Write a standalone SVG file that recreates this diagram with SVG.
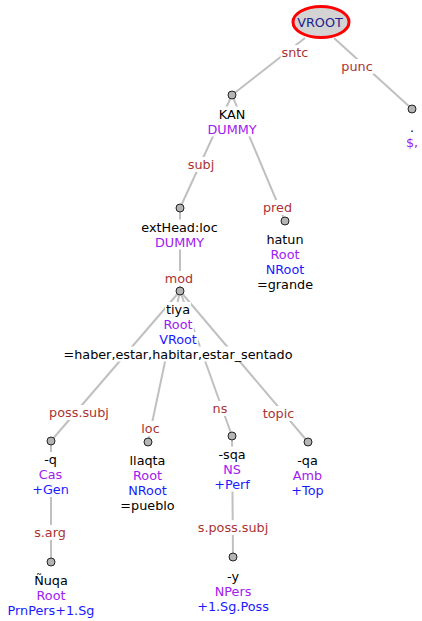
<svg xmlns="http://www.w3.org/2000/svg" width="422" height="621" viewBox="0 0 422 621">
<style>
text{font-family:"DejaVu Sans","Liberation Sans",sans-serif;font-size:12.8px;text-anchor:middle}
.l{fill:#aa3333}
.k{fill:#000000}
.p{fill:#a020f0}
.b{fill:#1a1aff}
.r{fill:#22228f}
.bg{fill:#ffffff;stroke:none}
line{stroke:#c0c0c0;stroke-width:2}
circle{fill:#b4b4b4;stroke:#222;stroke-width:1}
</style>
<rect width="422" height="621" fill="#ffffff"/>
<g id="connectors">
<line x1="305" y1="38" x2="232" y2="95"/>
<line x1="334" y1="38" x2="412" y2="109"/>
<line x1="232" y1="95" x2="180" y2="208"/>
<line x1="232" y1="95" x2="285" y2="221"/>
<line x1="180" y1="208" x2="180" y2="291"/>
<line x1="180" y1="291" x2="51" y2="441"/>
<line x1="180" y1="291" x2="148" y2="442"/>
<line x1="180" y1="291" x2="232" y2="436"/>
<line x1="180" y1="291" x2="308" y2="442"/>
<line x1="51" y1="441" x2="51" y2="562"/>
<line x1="232" y1="436" x2="233" y2="557"/>
<rect class="bg" x="280.6" y="45" width="28.8" height="15"/>
<rect class="bg" x="340.3" y="59" width="33.4" height="15"/>
<rect class="bg" x="186.75" y="157" width="28.5" height="15"/>
<rect class="bg" x="261.8" y="200" width="31.4" height="15"/>
<rect class="bg" x="163.8" y="271" width="30.4" height="15"/>
<rect class="bg" x="48.1" y="405" width="61.8" height="15"/>
<rect class="bg" x="140.3" y="421" width="20.4" height="15"/>
<rect class="bg" x="211.6" y="401" width="16.8" height="15"/>
<rect class="bg" x="261.7" y="406" width="33.6" height="15"/>
<rect class="bg" x="33" y="525" width="34" height="15"/>
<rect class="bg" x="196.7" y="520" width="72.6" height="15"/>
<text class="l" x="295" y="57">sntc</text>
<text class="l" x="357" y="71">punc</text>
<text class="l" x="201" y="169">subj</text>
<text class="l" x="277.5" y="212">pred</text>
<text class="l" x="179" y="283">mod</text>
<text class="l" x="79" y="417">poss.subj</text>
<text class="l" x="150.5" y="433">loc</text>
<text class="l" x="220" y="413">ns</text>
<text class="l" x="278.5" y="418">topic</text>
<text class="l" x="50" y="537">s.arg</text>
<text class="l" x="233" y="532">s.poss.subj</text>
</g>
<g id="vroot">
<ellipse cx="321" cy="22" rx="28" ry="15.5" fill="#d3d3d3" stroke="#ff0000" stroke-width="3"/>
<text class="r" x="320" y="26.5">VROOT</text>
</g>
<g id="n-punc">
<circle cx="412" cy="109" r="4"/>
<rect class="bg" x="408.9" y="120" width="6.1" height="15"/>
<rect class="bg" x="404.9" y="135" width="14.2" height="15"/>
<text class="k" x="412" y="132">.</text>
<text class="p" x="412" y="147">$,</text>
</g>
<g id="n-kan">
<circle cx="232" cy="95" r="4"/>
<rect class="bg" x="217.6" y="106.5" width="28.7" height="15"/>
<rect class="bg" x="206.4" y="121.5" width="51.1" height="15"/>
<text class="k" x="232" y="118.5">KAN</text>
<text class="p" x="232" y="133.5">DUMMY</text>
</g>
<g id="n-exthead">
<circle cx="180" cy="208" r="4"/>
<rect class="bg" x="140.1" y="219.5" width="78.7" height="15"/>
<rect class="bg" x="154" y="234.5" width="51.1" height="15"/>
<text class="k" x="179.5" y="231.5">extHead:loc</text>
<text class="p" x="179.5" y="246.5">DUMMY</text>
</g>
<g id="n-hatun">
<circle cx="285" cy="221" r="4"/>
<rect class="bg" x="265.4" y="231.5" width="39.2" height="15"/>
<rect class="bg" x="269.2" y="246.5" width="31.6" height="15"/>
<rect class="bg" x="264.4" y="261.5" width="41.2" height="15"/>
<rect class="bg" x="255.9" y="276.5" width="58.1" height="15"/>
<text class="k" x="285" y="243.5">hatun</text>
<text class="p" x="285" y="258.5">Root</text>
<text class="b" x="285" y="273.5">NRoot</text>
<text class="k" x="285" y="288.5">=grande</text>
</g>
<g id="n-tiya">
<circle cx="180" cy="291" r="4"/>
<rect class="bg" x="165" y="302" width="26" height="15"/>
<rect class="bg" x="162.2" y="317" width="31.6" height="15"/>
<rect class="bg" x="157.8" y="332" width="40.3" height="15"/>
<rect class="bg" x="62.4" y="346.5" width="231.1" height="15"/>
<text class="k" x="178" y="314">tiya</text>
<text class="p" x="178" y="329">Root</text>
<text class="b" x="178" y="344">VRoot</text>
<text class="k" x="178" y="358.5">=haber,estar,habitar,estar_sentado</text>
</g>
<g id="n-q">
<circle cx="51" cy="441" r="4"/>
<rect class="bg" x="43.1" y="452" width="14.7" height="15"/>
<rect class="bg" x="37.8" y="467" width="25.4" height="15"/>
<rect class="bg" x="31.2" y="482" width="38.6" height="15"/>
<text class="k" x="50.5" y="464">-q</text>
<text class="p" x="50.5" y="479">Cas</text>
<text class="b" x="50.5" y="494">+Gen</text>
</g>
<g id="n-llaqta">
<circle cx="148" cy="442" r="4"/>
<rect class="bg" x="128.5" y="452.5" width="38" height="15"/>
<rect class="bg" x="131.7" y="467.5" width="31.6" height="15"/>
<rect class="bg" x="126.9" y="482.5" width="41.2" height="15"/>
<rect class="bg" x="119.3" y="497.5" width="56.4" height="15"/>
<text class="k" x="147.5" y="464.5">llaqta</text>
<text class="p" x="147.5" y="479.5">Root</text>
<text class="b" x="147.5" y="494.5">NRoot</text>
<text class="k" x="147.5" y="509.5">=pueblo</text>
</g>
<g id="n-sqa">
<circle cx="232" cy="436" r="4"/>
<rect class="bg" x="217.35" y="446.5" width="29.3" height="15"/>
<rect class="bg" x="222.15" y="461.5" width="19.7" height="15"/>
<rect class="bg" x="212.95" y="476.5" width="38.1" height="15"/>
<text class="k" x="232" y="458.5">-sqa</text>
<text class="p" x="232" y="473.5">NS</text>
<text class="b" x="232" y="488.5">+Perf</text>
</g>
<g id="n-qa">
<circle cx="308" cy="442" r="4"/>
<rect class="bg" x="296.2" y="452.5" width="22.6" height="15"/>
<rect class="bg" x="291.8" y="467.5" width="31.4" height="15"/>
<rect class="bg" x="289.25" y="482.5" width="36.5" height="15"/>
<text class="k" x="307.5" y="464.5">-qa</text>
<text class="p" x="307.5" y="479.5">Amb</text>
<text class="b" x="307.5" y="494.5">+Top</text>
</g>
<g id="n-nuqa">
<circle cx="51" cy="562" r="4"/>
<rect class="bg" x="33.15" y="573" width="35.7" height="15"/>
<rect class="bg" x="35.2" y="588" width="31.6" height="15"/>
<rect class="bg" x="6.1" y="603" width="89.8" height="15"/>
<text class="k" x="51" y="585">Ñuqa</text>
<text class="p" x="51" y="600">Root</text>
<text class="b" x="51" y="615">PrnPers+1.Sg</text>
</g>
<g id="n-y">
<circle cx="233" cy="557" r="4"/>
<rect class="bg" x="225.9" y="568.5" width="14.2" height="15"/>
<rect class="bg" x="213.45" y="583.5" width="39.1" height="15"/>
<rect class="bg" x="195.9" y="598.5" width="74.2" height="15"/>
<text class="k" x="233" y="580.5">-y</text>
<text class="p" x="233" y="595.5">NPers</text>
<text class="b" x="233" y="610.5">+1.Sg.Poss</text>
</g>
</svg>
